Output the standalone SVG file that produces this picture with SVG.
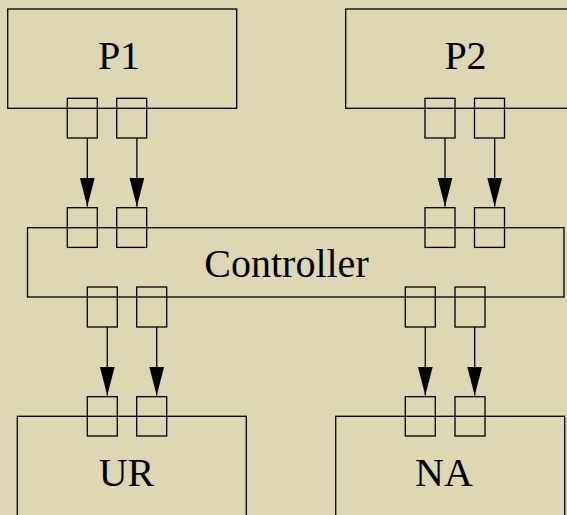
<svg xmlns="http://www.w3.org/2000/svg" width="567" height="515" viewBox="0 0 567 515">
<style>
.b{fill:none;stroke:#000;stroke-width:1.3}
.p{fill:none;stroke:#000;stroke-width:1.3}
.t{font-family:'Liberation Serif','Times New Roman',serif;font-size:40px;fill:#000;text-anchor:middle}
.c{stroke:#000;stroke-width:1.3;fill:none}
</style>
<defs>
<marker id="ah" markerUnits="userSpaceOnUse" markerWidth="30" markerHeight="16" refX="29" refY="7.5" orient="auto" viewBox="0 0 30 15">
<path d="M0,0 L29,7.5 L0,15 Z" fill="#000"/>
</marker>
</defs>
<rect width="567" height="515" fill="#ddd7b4"/>
<g id="P1">
<rect class="b" x="7.7" y="9" width="229" height="99.3"/>
<text class="t" x="119" y="69.3">P1</text>
<rect class="p" x="67.3" y="98.3" width="30" height="39.7"/>
<rect class="p" x="116.7" y="98.3" width="30" height="39.7"/>
</g>
<g id="P2">
<rect class="b" x="345.7" y="9" width="240" height="99.3"/>
<text class="t" x="465.5" y="69.3">P2</text>
<rect class="p" x="425" y="98.3" width="30" height="39.7"/>
<rect class="p" x="474.5" y="98.3" width="30" height="39.7"/>
</g>
<g id="Controller">
<rect class="b" x="27.5" y="227.7" width="536.5" height="69.3"/>
<text class="t" x="286.5" y="277.3">Controller</text>
<rect class="p" x="67.3" y="207.7" width="30" height="39.7"/>
<rect class="p" x="116.7" y="207.7" width="30" height="39.7"/>
<rect class="p" x="425" y="207.7" width="30" height="39.7"/>
<rect class="p" x="474.5" y="207.7" width="30" height="39.7"/>
<rect class="p" x="87.3" y="287" width="30" height="40"/>
<rect class="p" x="136.7" y="287" width="30" height="40"/>
<rect class="p" x="405.3" y="287" width="30" height="40"/>
<rect class="p" x="455" y="287" width="30" height="40"/>
</g>
<g id="UR">
<rect class="b" x="17.3" y="416.3" width="229" height="120"/>
<text class="t" x="126.5" y="485.7">UR</text>
<rect class="p" x="87.3" y="396.7" width="30" height="39.3"/>
<rect class="p" x="136.7" y="396.7" width="30" height="39.3"/>
</g>
<g id="NA">
<rect class="b" x="335.7" y="416.3" width="229" height="120"/>
<text class="t" x="444" y="485.7">NA</text>
<rect class="p" x="405.3" y="396.7" width="30" height="39.3"/>
<rect class="p" x="455" y="396.7" width="30" height="39.3"/>
</g>
<g id="connectors">
<line class="c" x1="87.3" y1="138" x2="87.3" y2="206.5" marker-end="url(#ah)"/>
<line class="c" x1="136.9" y1="138" x2="136.9" y2="206.5" marker-end="url(#ah)"/>
<line class="c" x1="445" y1="138" x2="445" y2="206.5" marker-end="url(#ah)"/>
<line class="c" x1="494.7" y1="138" x2="494.7" y2="206.5" marker-end="url(#ah)"/>
<line class="c" x1="107.3" y1="327" x2="107.3" y2="395.5" marker-end="url(#ah)"/>
<line class="c" x1="156.7" y1="327" x2="156.7" y2="395.5" marker-end="url(#ah)"/>
<line class="c" x1="425.3" y1="327" x2="425.3" y2="395.5" marker-end="url(#ah)"/>
<line class="c" x1="474.7" y1="327" x2="474.7" y2="395.5" marker-end="url(#ah)"/>
</g>
</svg>
